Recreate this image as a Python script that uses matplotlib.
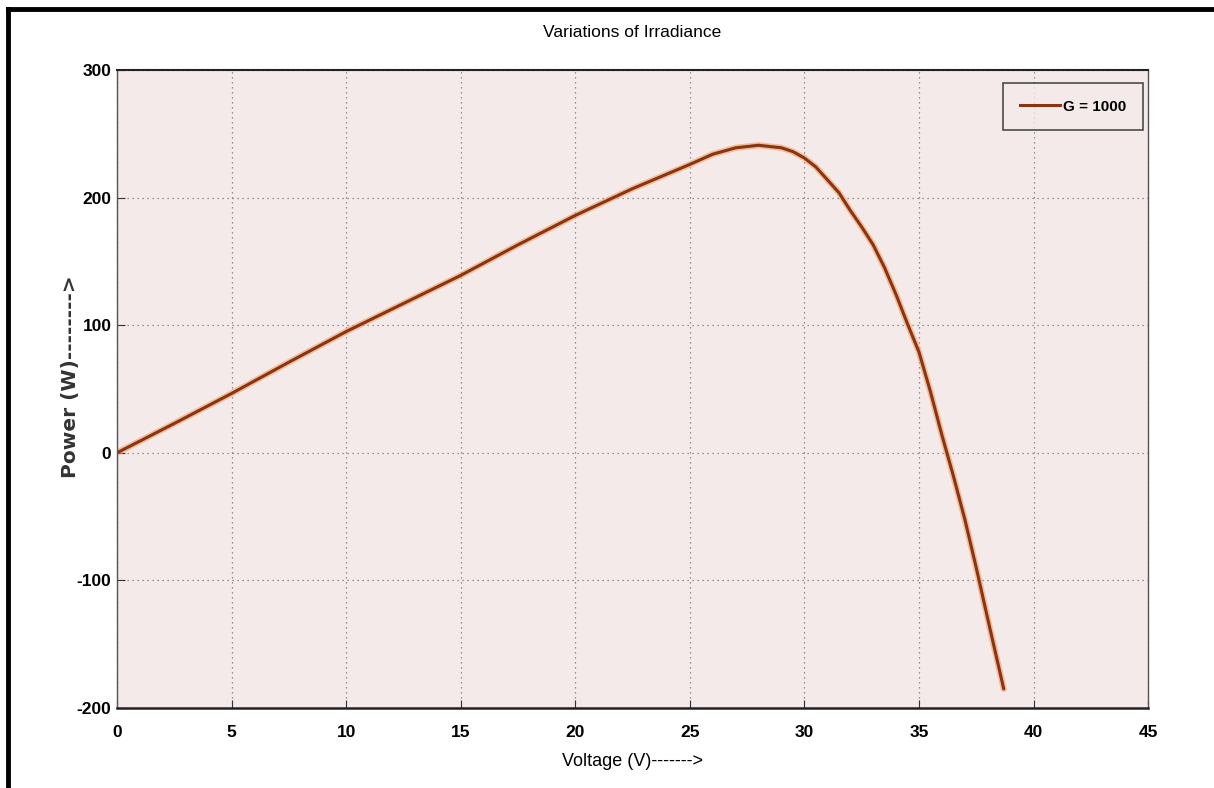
import numpy as np
import matplotlib.pyplot as plt
from matplotlib.lines import Line2D

# values
voltage = [0, 2.5, 5, 7.5, 10, 12.5, 15, 17.5, 20, 22.5, 25, 26, 27, 28, 29,
           29.5, 30, 30.5, 31, 31.5, 32, 32.5, 33, 33.5, 34, 34.5, 35, 35.5,
           36, 36.5, 37, 37.5, 38, 38.7]
power = [0, 23, 46.5, 71, 95, 117, 139, 163, 186, 207, 226, 234, 239, 241, 239,
         236, 231, 224, 214, 204, 190, 177, 163, 145, 124, 101, 79, 48,
         14, -18, -52, -90, -130, -185]
x_ticks = [0, 5, 10, 15, 20, 25, 30, 35, 40, 45]
y_ticks = [-200, -100, 0, 100, 200, 300]

narrow = ['Liberation Sans Narrow', 'Liberation Sans', 'DejaVu Sans']

fig = plt.figure(figsize=(12.14, 7.88), dpi=100)
ax = fig.add_axes([0.0964, 0.1015, 0.8493, 0.8097])
ax.set_facecolor('#f4eaea')

# soft orange halo under the brown curve
ax.plot(voltage, power, color='#f0a060', lw=4.5, alpha=0.6, solid_capstyle='round')
ax.plot(voltage, power, color='#8a3414', lw=2.2, solid_capstyle='round')

ax.set_xlim(0, 45)
ax.set_ylim(-200, 300)
ax.set_xticks(x_ticks)
ax.set_yticks(y_ticks)
ax.set_xticklabels([str(t) for t in x_ticks], family=narrow, fontsize=12.5, fontweight='bold')
ax.set_yticklabels([str(t) for t in y_ticks], family=narrow, fontsize=12.5, fontweight='bold')
ax.tick_params(direction='in', length=6, color='#333333', pad=4)
ax.tick_params(axis='x', pad=12)
ax.grid(True, linestyle=(0, (1, 3)), color='#777777', lw=0.9)

for s in ax.spines.values():
    s.set_color('#555555')
    s.set_linewidth(1.0)
ax.spines['bottom'].set_color('#222222')
ax.spines['bottom'].set_linewidth(1.8)
ax.spines['top'].set_color('#222222')
ax.spines['top'].set_linewidth(1.5)

ax.set_title('Variations of Irradiance', family=narrow, fontsize=12.5, pad=24)
ax.set_xlabel('Voltage (V)------->', family=narrow, fontsize=13)
ax.set_ylabel('Power (W)-------->', family=['DejaVu Sans'], fontsize=14.5,
              fontweight='bold', color='#333333')
ax.xaxis.set_label_coords(0.5, -0.07)
ax.yaxis.set_label_coords(-0.036, 0.52)

handle = Line2D([], [], color='#8a3414', lw=2.2)
leg = ax.legend([handle], ['G = 1000'], loc='upper right', fancybox=False,
                prop={'family': narrow, 'size': 11, 'weight': 'bold'},
                handlelength=2.6, handletextpad=0.2, borderpad=1.1,
                borderaxespad=0.0, bbox_to_anchor=(0.995, 0.98))
leg.get_frame().set_edgecolor('#222222')
leg.get_frame().set_facecolor('#f4eaea')
leg.get_frame().set_linewidth(1.2)

# black frame on the top and left edges of the image
fig.add_artist(Line2D([0.007, 1.0], [0.988, 0.988], transform=fig.transFigure,
                      color='black', lw=3.5))
fig.add_artist(Line2D([0.007, 0.007], [0.0, 0.988], transform=fig.transFigure,
                      color='black', lw=3.5))

fig.savefig('out.png', dpi=100)
